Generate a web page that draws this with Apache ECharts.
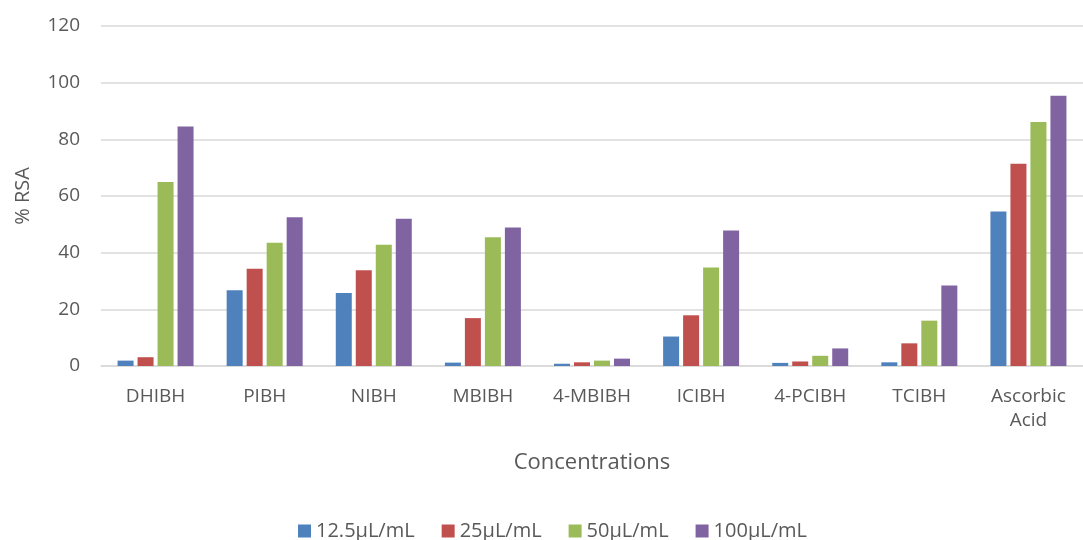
<!DOCTYPE html>
<html>
<head>
<meta charset="utf-8">
<script src="https://cdn.jsdelivr.net/npm/echarts@6/dist/echarts.min.js"></script>
<style>
  html, body { margin: 0; padding: 0; background: #ffffff; }
  #chart { width: 1083px; height: 540px; }
</style>
</head>
<body>
<div id="chart"></div>
<script>
// Radical scavenging activity (% RSA) per compound at four concentrations
const categories = ['DHIBH', 'PIBH', 'NIBH', 'MBIBH', '4-MBIBH', 'ICIBH', '4-PCIBH', 'TCIBH', 'Ascorbic Acid'];
const seriesNames = ['12.5\u00b5L/mL', '25\u00b5L/mL', '50\u00b5L/mL', '100\u00b5L/mL'];
const conc12_5 = [1.9, 26.7, 25.8, 1.2, 0.8, 10.4, 1.1, 1.3, 54.5];
const conc25   = [3.1, 34.3, 33.8, 16.9, 1.3, 17.9, 1.6, 8.0, 71.4];
const conc50   = [64.9, 43.5, 42.8, 45.4, 1.9, 34.8, 3.6, 16.0, 86.1];
const conc100  = [84.5, 52.5, 52.0, 48.9, 2.6, 47.8, 6.2, 28.4, 95.4];
const yTicks = { min: 0, max: 120, interval: 20 };

const colors = ['#4f81bd', '#c0504d', '#9bbb59', '#8064a2'];
const values = [conc12_5, conc25, conc50, conc100];
const textColor = '#595959';
const fontFamily = '"Open Sans", "Liberation Sans", sans-serif';

const chart = echarts.init(document.getElementById('chart'), null, { renderer: 'canvas' });

chart.setOption({
  animation: false,
  backgroundColor: '#ffffff',
  color: colors,
  textStyle: { fontFamily: fontFamily, color: textColor },
  grid: { left: 101, top: 26, width: 994, height: 340 },
  legend: {
    data: seriesNames,
    left: 298,
    top: 521,
    padding: 0,
    itemWidth: 13,
    itemHeight: 13,
    itemGap: 27,
    icon: 'rect',
    textStyle: { fontSize: 20, color: textColor, fontFamily: fontFamily }
  },
  xAxis: {
    type: 'category',
    data: categories,
    name: 'Concentrations',
    nameLocation: 'middle',
    nameGap: 86,
    nameTextStyle: { fontSize: 22, color: textColor, fontFamily: fontFamily },
    axisLine: { lineStyle: { color: '#d9d9d9', width: 1.5 } },
    axisTick: { show: false },
    axisLabel: {
      interval: 0,
      margin: 19,
      fontSize: 19,
      lineHeight: 24,
      color: textColor,
      formatter: (v) => v.replace(' ', '\n')
    }
  },
  yAxis: {
    type: 'value',
    min: yTicks.min,
    max: yTicks.max,
    interval: yTicks.interval,
    name: '% RSA',
    nameLocation: 'middle',
    nameGap: 68,
    nameRotate: 90,
    nameTextStyle: { fontSize: 20, color: textColor, fontFamily: fontFamily },
    axisLine: { show: false },
    axisTick: { show: false },
    axisLabel: { fontSize: 19, color: textColor, margin: 21 },
    splitLine: { lineStyle: { color: '#d9d9d9', width: 1.5 } }
  },
  series: seriesNames.map((name, i) => ({
    name: name,
    type: 'bar',
    data: values[i],
    barWidth: 16,
    barGap: '25%',
    itemStyle: { color: colors[i] }
  }))
});
</script>
</body>
</html>
